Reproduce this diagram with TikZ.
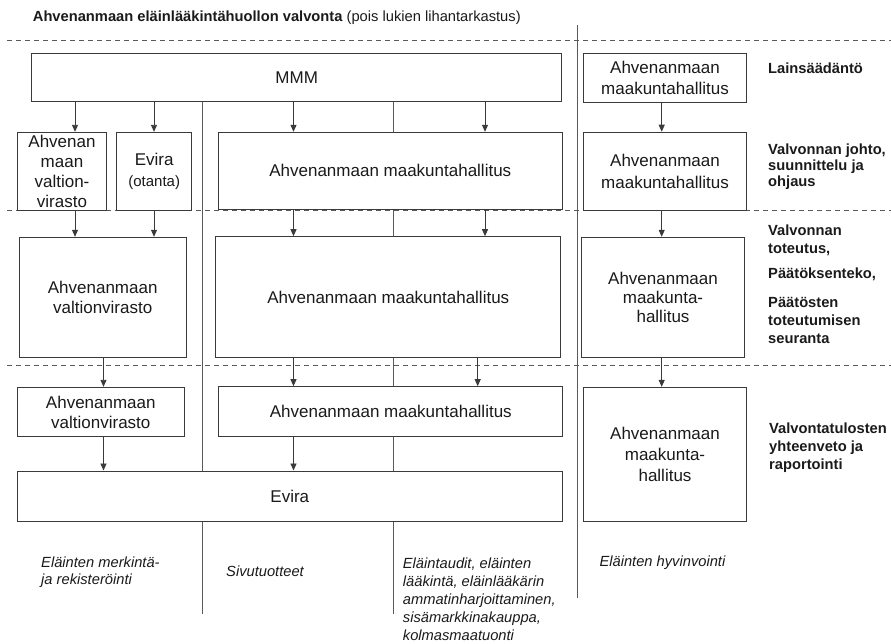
\documentclass[tikz,border=0pt]{standalone}
\usepackage{fontspec}
\setmainfont{Liberation Sans}
\usetikzlibrary{arrows.meta,backgrounds}
\definecolor{boxc}{HTML}{3A3A3A}
\definecolor{linec}{HTML}{5A5A5A}
\definecolor{txt}{HTML}{1A1A1A}
\begin{document}
\begin{tikzpicture}[x=1pt,y=-1pt,
 box/.style={draw=boxc,fill=white,line width=1pt,inner sep=0pt,align=center,text=txt,font=\fontsize{17}{20}\selectfont},
 arr/.style={draw=boxc,line width=0.9pt,-{Triangle[length=7pt,width=6pt]}},
 ln/.style={draw=linec,line width=1pt},
 dsh/.style={draw=linec,line width=0.9pt,dash pattern=on 5pt off 4pt},
 lab/.style={anchor=west,inner sep=0pt,align=left,text=txt,font=\fontsize{14.7}{18}\selectfont\bfseries},
 itl/.style={anchor=west,inner sep=0pt,align=left,text=txt,font=\fontsize{14.7}{18}\selectfont\itshape}]
\useasboundingbox (0,0) rectangle (891,644);

% coordinates
\coordinate (d1l) at (7,40.7);  \coordinate (d1r) at (891,40.7);
\coordinate (d2l) at (7,210.5); \coordinate (d2r) at (891,210.5);
\coordinate (d3l) at (7,365);   \coordinate (d3r) at (891,365);
\coordinate (dvt) at (577,25);  \coordinate (dvb) at (577,598);
\coordinate (v202) at (202,614); \coordinate (v393) at (393,614);
\coordinate (xa) at (75,0);    \coordinate (xb) at (154,0);
\coordinate (xc) at (293.5,0); \coordinate (xd) at (485,0);
\coordinate (xe) at (661.7,0); \coordinate (xf) at (103.5,0);
\coordinate (xg) at (477.7,0);

% title
\node[anchor=west,inner sep=0pt,text=txt,font=\fontsize{14.7}{18}\selectfont] (title) at (32.7,17.3)
  {\textbf{Ahvenanmaan eläinlääkintähuollon valvonta} (pois lukien lihantarkastus)};

% dashed separators and divider
\draw[dsh] (d1l) -- (d1r);
\draw[dsh] (d2l) -- (d2r);
\draw[dsh] (d3l) -- (d3r);
\draw[ln] (dvt) -- (dvb);

% boxes
\node[box,minimum width=530pt,minimum height=48.4pt] (MMM) at (296.7,77.5) {MMM};
\node[box,minimum width=163pt,minimum height=49pt,font=\fontsize{17}{21.6}\selectfont] (R1) at (665,78) {Ahvenanmaan\\maakuntahallitus};

\node[box,minimum width=89.4pt,minimum height=77.7pt] (A1) at (62,171.2) {Ahvenan\\maan\\valtion-\\virasto};
\node[box,minimum width=75pt,minimum height=77.7pt] (E1) at (154.2,171.2) {Evira\\[0.5pt]{\fontsize{15}{18}\selectfont(otanta)}};
\node[box,minimum width=344pt,minimum height=77pt] (M1) at (390.3,170.8) {Ahvenanmaan maakuntahallitus};
\node[box,minimum width=163.4pt,minimum height=78.7pt,font=\fontsize{17}{21.6}\selectfont] (R2) at (665,171.6) {Ahvenanmaan\\maakuntahallitus};

\node[box,minimum width=166.7pt,minimum height=120pt] (A2) at (102.7,297.3) {Ahvenanmaan\\valtionvirasto};
\node[box,minimum width=344.7pt,minimum height=121pt] (M2) at (388.3,297.2) {Ahvenanmaan maakuntahallitus};
\node[box,minimum width=162.6pt,minimum height=120pt,font=\fontsize{17}{19}\selectfont] (R3) at (663,297.3) {Ahvenanmaan\\maakunta-\\hallitus};

\node[box,minimum width=167pt,minimum height=49.4pt] (A3) at (100.8,412) {Ahvenanmaan\\valtionvirasto};
\node[box,minimum width=343.7pt,minimum height=50pt] (M3) at (390.8,411.7) {Ahvenanmaan maakuntahallitus};
\node[box,minimum width=545pt,minimum height=50pt] (EV) at (289.8,496) {Evira};
\node[box,minimum width=163.4pt,minimum height=133.7pt,font=\fontsize{17}{21}\selectfont] (R4) at (665,454.2) {Ahvenanmaan\\maakunta-\\hallitus};

% vertical connector lines behind boxes
\begin{scope}[on background layer]
\draw[ln] (MMM.south -| v202) -- (v202);
\draw[ln] (MMM.south -| v393) -- (v393);
\end{scope}

% arrows
\draw[arr] (MMM.south -| xa) -- (A1.north -| xa);
\draw[arr] (MMM.south -| xb) -- (E1.north -| xb);
\draw[arr] (MMM.south -| xc) -- (M1.north -| xc);
\draw[arr] (MMM.south -| xd) -- (M1.north -| xd);
\draw[arr] (R1.south -| xe) -- (R2.north -| xe);

\draw[arr] (A1.south -| xa) -- (A2.north -| xa);
\draw[arr] (E1.south -| xb) -- (A2.north -| xb);
\draw[arr] (M1.south -| xc) -- (M2.north -| xc);
\draw[arr] (M1.south -| xd) -- (M2.north -| xd);
\draw[arr] (R2.south -| xe) -- (R3.north -| xe);

\draw[arr] (A2.south -| xf) -- (A3.north -| xf);
\draw[arr] (M2.south -| xc) -- (M3.north -| xc);
\draw[arr] (M2.south -| xg) -- (M3.north -| xg);
\draw[arr] (R3.south -| xe) -- (R4.north -| xe);

\draw[arr] (A3.south -| xf) -- (EV.north -| xf);
\draw[arr] (M3.south -| xc) -- (EV.north -| xc);

% right labels
\node[lab] (l1) at (768,68.3) {Lainsäädäntö};
\node[lab,font=\fontsize{14.7}{16}\selectfont\bfseries] (l2) at (768,167.2) {Valvonnan johto,\\suunnittelu ja\\ohjaus};
\node[lab] (l3) at (768,240.8) {Valvonnan\\toteutus,};
\node[lab] (l4) at (768,274) {Päätöksenteko,};
\node[lab] (l5) at (768,320) {Päätösten\\toteutumisen\\seuranta};
\node[lab] (l6) at (769,447.2) {Valvontatulosten\\yhteenveto ja\\raportointi};

% bottom italic texts
\node[itl,font=\fontsize{14.7}{17.4}\selectfont\itshape] (i1) at (41,572) {Eläinten merkintä-\\ja rekisteröinti};
\node[itl] (i2) at (226,571.7) {Sivutuotteet};
\node[itl] (i3) at (402.7,598.8) {Eläintaudit, eläinten\\lääkintä, eläinlääkärin\\ammatinharjoittaminen,\\sisämarkkinakauppa,\\kolmasmaatuonti};
\node[itl] (i4) at (599.3,562.7) {Eläinten hyvinvointi};
\end{tikzpicture}
\end{document}
